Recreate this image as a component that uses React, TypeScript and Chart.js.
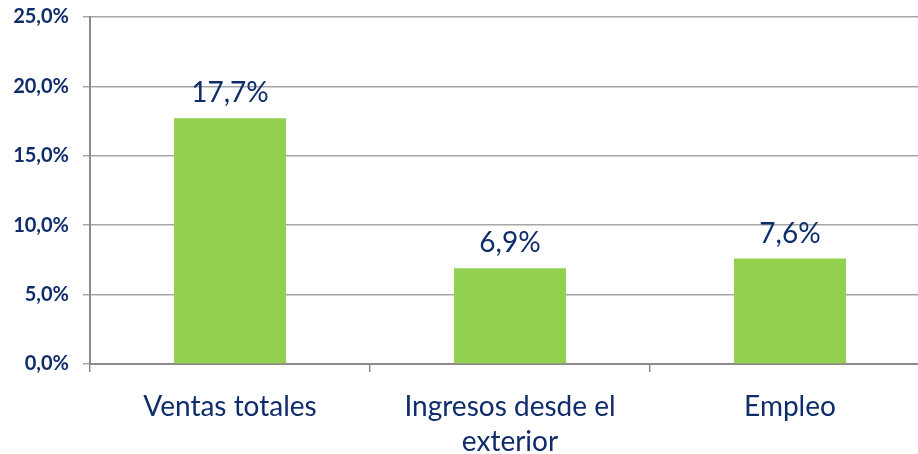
import React, { useEffect, useRef } from "react";
import { Chart, registerables } from "chart.js";

Chart.register(...registerables);

const categories: (string | string[])[] = ["Ventas totales", ["Ingresos desde el", "exterior"], "Empleo"];
const values: number[] = [17.7, 6.9, 7.6];
const yMin = 0;
const yMax = 25;
const yStep = 5;

const NAVY = "#0F2D6B";
const fmt = (v: number) => v.toFixed(1).replace(".", ",") + "%";

const valueLabels = {
  id: "valueLabels",
  afterDatasetsDraw(chart: any) {
    const ctx = chart.ctx;
    const meta = chart.getDatasetMeta(0);
    ctx.save();
    ctx.fillStyle = NAVY;
    ctx.font = "28px Lato";
    ctx.textAlign = "center";
    ctx.textBaseline = "alphabetic";
    meta.data.forEach((bar: any, i: number) => {
      ctx.fillText(fmt(values[i]), bar.x, bar.y - 16);
    });
    ctx.restore();
  },
};

export default function App() {
  const ref = useRef<HTMLCanvasElement>(null);
  useEffect(() => {
    if (!ref.current) return;
    const chart = new Chart(ref.current, {
      type: "bar",
      data: {
        labels: categories,
        datasets: [
          {
            data: values,
            backgroundColor: "#92D050",
            barPercentage: 0.4,
            categoryPercentage: 1,
          },
        ],
      },
      options: {
        responsive: false,
        animation: false,
        layout: { padding: { top: 17, left: 0, right: 0, bottom: 0 } },
        plugins: { legend: { display: false }, tooltip: { enabled: false } },
        scales: {
          x: {
            offset: true,
            grid: {
              offset: true,
              drawOnChartArea: false,
              drawTicks: true,
              tickLength: 8,
              color: "#8C8C8C",
              lineWidth: 1.5,
            },
            border: { color: "#8C8C8C", width: 2 },
            ticks: {
              color: NAVY,
              font: { family: "Lato", size: 28, lineHeight: 1.25 },
              padding: 17,
              maxRotation: 0,
              autoSkip: false,
            },
            afterFit: (s: any) => {
              s.height = 90;
              s.paddingLeft = 0;
              s.paddingRight = 0;
            },
          },
          y: {
            min: yMin,
            max: yMax,
            ticks: {
              stepSize: yStep,
              color: NAVY,
              font: { family: "Lato", size: 20, weight: "bold" },
              padding: 14,
              callback: (v: any) => fmt(Number(v)),
            },
            grid: { color: "#A6A6A6", lineWidth: 1.5, tickLength: 7 },
            border: { color: "#8C8C8C", width: 2 },
            afterFit: (s: any) => {
              s.width = 90;
              s.paddingTop = 0;
              s.paddingBottom = 0;
            },
          },
        },
      },
      plugins: [valueLabels],
    });
    return () => chart.destroy();
  }, []);
  return (
    <div style={{ position: "absolute", left: 0, top: 0, width: 918, height: 454, overflow: "hidden", background: "#fff" }}>
      <canvas ref={ref} width={930} height={454} />
    </div>
  );
}
